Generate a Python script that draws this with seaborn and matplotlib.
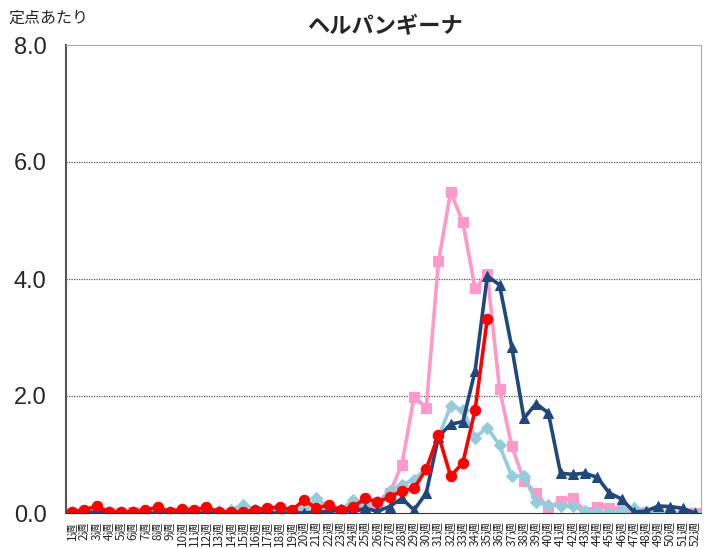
import numpy as np
import pandas as pd
import matplotlib
matplotlib.use("Agg")
import matplotlib.pyplot as plt
import seaborn as sns

weeks = list(range(1, 53))
week_labels = [str(w) + "週" for w in weeks]

# per-sentinel values
light_blue = [0.02, 0.03, 0.00, 0.02, 0.02, 0.02, 0.02, 0.03, 0.02, 0.02,
              0.02, 0.02, 0.03, 0.05, 0.14, 0.05, 0.03, 0.03, 0.02, 0.03,
              0.25, 0.10, 0.05, 0.22, 0.15, 0.18, 0.38, 0.48, 0.57, 0.76,
              1.30, 1.83, 1.76, 1.29, 1.46, 1.16, 0.63, 0.63, 0.19, 0.14,
              0.12, 0.12, 0.03, 0.02, 0.00, 0.03, 0.08, 0.00, 0.00, 0.00,
              0.00, 0.00]
pink = [0.00, 0.02, 0.02, 0.00, 0.00, 0.02, 0.00, 0.02, 0.00, 0.00,
        0.02, 0.00, 0.00, 0.00, 0.02, 0.00, 0.00, 0.00, 0.02, 0.02,
        0.00, 0.02, 0.02, 0.05, 0.08, 0.12, 0.34, 0.82, 1.99, 1.80,
        4.30, 5.49, 4.97, 3.84, 4.09, 2.12, 1.15, 0.55, 0.34, 0.08,
        0.21, 0.26, 0.02, 0.11, 0.08, 0.08, 0.00, 0.02, 0.00, 0.00,
        0.00, 0.00]
navy = [0.00, 0.00, 0.02, 0.00, 0.00, 0.00, 0.00, 0.00, 0.00, 0.00,
        0.00, 0.00, 0.00, 0.00, 0.00, 0.00, 0.00, 0.00, 0.00, 0.00,
        0.02, 0.02, 0.06, 0.02, 0.08, 0.03, 0.11, 0.25, 0.05, 0.34,
        1.30, 1.52, 1.56, 2.43, 4.05, 3.90, 2.84, 1.62, 1.87, 1.71,
        0.68, 0.66, 0.68, 0.61, 0.34, 0.24, 0.02, 0.03, 0.12, 0.11,
        0.08, 0.00]
red = [0.02, 0.05, 0.12, 0.02, 0.02, 0.02, 0.05, 0.10, 0.02, 0.07,
       0.05, 0.10, 0.02, 0.02, 0.02, 0.05, 0.09, 0.10, 0.05, 0.22,
       0.08, 0.14, 0.05, 0.10, 0.25, 0.19, 0.27, 0.38, 0.42, 0.75,
       1.33, 0.63, 0.86, 1.76, 3.32] + [np.nan] * 17

series = [
    (pink, "#ff99cc", "s", 6.5),
    (light_blue, "#92cddc", "D", 6),
    (navy, "#1f497d", "^", 6.5),
    (red, "#ff0000", "o", 7.5),
]

sns.set_style("white")
plt.rcParams["font.family"] = ["Noto Sans CJK JP", "DejaVu Sans"]

fig = plt.figure(figsize=(7.22, 5.48), dpi=100)
ax = fig.add_axes([66 / 722, 1 - 513 / 548, 635 / 722, 468 / 548])

for vals, col, mk, ms in series:
    df = pd.DataFrame({"week": weeks, "value": vals})
    sns.lineplot(data=df, x="week", y="value", color=col, marker=mk,
                 markersize=ms, markeredgecolor=col, linewidth=2.6, ax=ax)

ax.set_xlim(0.5, 52.5)
ax.set_ylim(0, 8)
ax.set_xlabel("")
ax.set_ylabel("")

ax.set_yticks([0, 2, 4, 6, 8])
ax.set_yticklabels(["0.0", "2.0", "4.0", "6.0", "8.0"],
                   fontfamily="Liberation Sans", fontsize=17)
ax.tick_params(axis="y", length=0, pad=14)
for yv in [2, 4, 6]:
    ax.axhline(yv, color="#555555", linestyle=(0, (1, 1)), linewidth=0.9, zorder=0)

ax.set_xticks(np.arange(1.5, 52, 1))
ax.set_xticklabels([])
ax.tick_params(axis="x", which="major", direction="in", length=4, color="#333333")
ax.set_xticks(weeks, minor=True)
ax.set_xticklabels(week_labels, minor=True, rotation=90, fontsize=8.5, va="top")
ax.tick_params(axis="x", which="minor", length=0, pad=6)

for side in ["top", "right"]:
    ax.spines[side].set_color("#aaaaaa")
ax.spines["bottom"].set_color("#333333")
ax.spines["left"].set_color("#555555")
ax.spines["left"].set_linewidth(1.5)

fig.text(385 / 722, 1 - 27 / 548, "ヘルパンギーナ", ha="center", va="center",
         fontsize=16, fontweight="bold")
fig.text(8 / 722, 1 - 18 / 548, "定点あたり", ha="left", va="center", fontsize=11.5)

fig.savefig("out.png", dpi=100)
